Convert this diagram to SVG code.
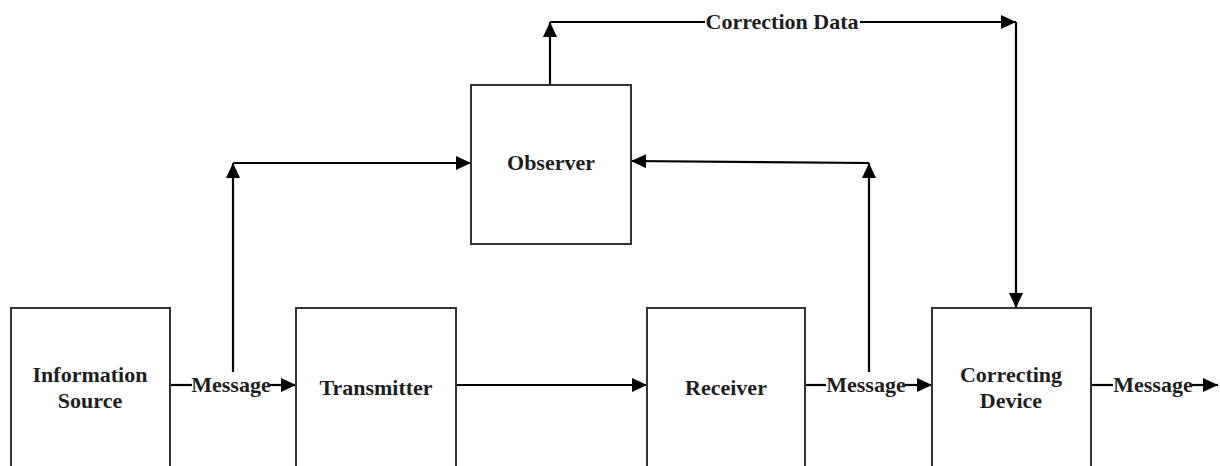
<svg xmlns="http://www.w3.org/2000/svg" width="1220" height="466" viewBox="0 0 1220 466">
  <style>
    .box { fill: #ffffff; stroke: #333333; stroke-width: 2; }
    .lbl { font-family: "Liberation Serif", "Times New Roman", serif; font-weight: bold; font-size: 22px; fill: #1e1e1e; text-anchor: middle; }
    .wire { stroke: #000000; stroke-width: 2.2; fill: none; }
    .arr { marker-end: url(#head); }
  </style>
  <defs>
    <marker id="head" markerUnits="userSpaceOnUse" markerWidth="16" markerHeight="14" refX="15" refY="7" orient="auto">
      <path d="M0,0 L15,7 L0,14 z" fill="#000000"/>
    </marker>
  </defs>
  <rect width="1220" height="466" fill="#ffffff"/>

  <g id="connectors">
    <!-- Information Source to Transmitter -->
    <line class="wire" x1="170" y1="385" x2="192" y2="385"/>
    <line class="wire arr" x1="270" y1="385" x2="296" y2="385"/>
    <!-- tap up to Observer -->
    <line class="wire arr" x1="233" y1="372" x2="233" y2="163"/>
    <line class="wire arr" x1="233" y1="163" x2="471" y2="163"/>
    <!-- Transmitter to Receiver -->
    <line class="wire arr" x1="456" y1="385" x2="647" y2="385"/>
    <!-- Receiver to Correcting Device -->
    <line class="wire" x1="805" y1="385" x2="826" y2="385"/>
    <line class="wire arr" x1="905" y1="385" x2="932" y2="385"/>
    <!-- tap up to Observer from the receiving side -->
    <line class="wire arr" x1="869" y1="372" x2="869" y2="163"/>
    <line class="wire arr" x1="869" y1="163" x2="631" y2="161"/>
    <!-- Correction Data path -->
    <line class="wire arr" x1="550" y1="85" x2="550" y2="22"/>
    <line class="wire" x1="550" y1="22" x2="705" y2="22"/>
    <line class="wire arr" x1="860" y1="22" x2="1016" y2="22"/>
    <line class="wire arr" x1="1016" y1="22" x2="1016" y2="308"/>
    <!-- output -->
    <line class="wire" x1="1091" y1="385" x2="1113" y2="385"/>
    <line class="wire arr" x1="1192" y1="385" x2="1218" y2="385"/>
    <!-- connector labels -->
    <text class="lbl" x="231" y="392">Message</text>
    <text class="lbl" x="866" y="392">Message</text>
    <text class="lbl" x="1153" y="392">Message</text>
    <text class="lbl" x="782" y="29">Correction Data</text>
  </g>

  <g id="information-source">
    <rect class="box" x="11" y="308" width="159" height="170"/>
    <text class="lbl" x="90" y="382">Information</text>
    <text class="lbl" x="90" y="408">Source</text>
  </g>

  <g id="transmitter">
    <rect class="box" x="296" y="308" width="160" height="170"/>
    <text class="lbl" x="376" y="395">Transmitter</text>
  </g>

  <g id="receiver">
    <rect class="box" x="647" y="308" width="158" height="170"/>
    <text class="lbl" x="726" y="395">Receiver</text>
  </g>

  <g id="observer">
    <rect class="box" x="471" y="85" width="160" height="159"/>
    <text class="lbl" x="551" y="170">Observer</text>
  </g>

  <g id="correcting-device">
    <rect class="box" x="932" y="308" width="159" height="170"/>
    <text class="lbl" x="1011" y="382">Correcting</text>
    <text class="lbl" x="1011" y="408">Device</text>
  </g>
</svg>
